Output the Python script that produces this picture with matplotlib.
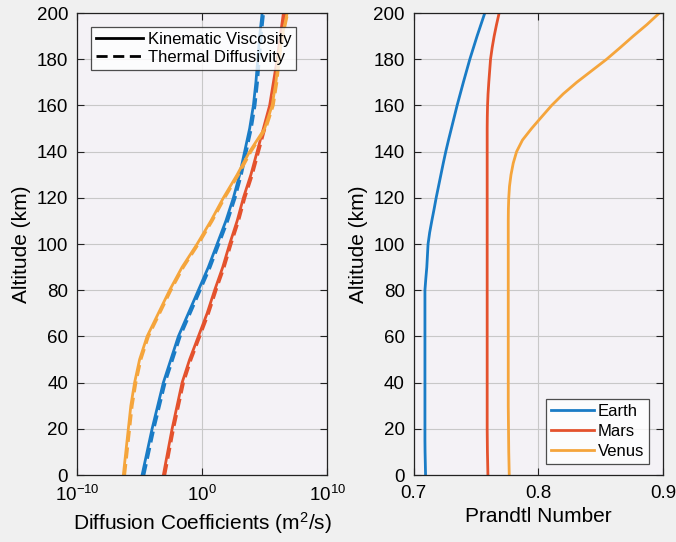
import numpy as np
import matplotlib
matplotlib.use("Agg")
import matplotlib.pyplot as plt
from matplotlib.ticker import FixedLocator

plt.rcParams['font.family'] = ['Liberation Sans', 'DejaVu Sans']
plt.rcParams['mathtext.default'] = 'regular'

# altitude grid for the Prandtl numbers (km), every 5 km
ALT_PR = [0, 5, 10, 15, 20, 25, 30, 35, 40, 45, 50, 55, 60, 65, 70, 75, 80, 85, 90, 95, 100,
          105, 110, 115, 120, 125, 130, 135, 140, 145, 150, 155, 160, 165, 170, 175, 180,
          185, 190, 195, 200]
# altitude grid for the diffusion coefficients (km), every 10 km
ALT = [0, 10, 20, 30, 40, 50, 60, 70, 80, 90, 100,
       110, 120, 130, 140, 150, 160, 170, 180, 190, 200]

# log10 of kinematic viscosity (m^2/s)
LOG_NU_EARTH = [-4.8, -4.4, -4.0, -3.55, -3.1, -2.5, -1.9, -1.1, -0.3, 0.5, 1.2,
                1.9, 2.5, 3.0, 3.4, 3.8, 4.1, 4.3, 4.45, 4.6, 4.8]
LOG_NU_MARS = [-3.1, -2.75, -2.4, -2.0, -1.6, -1.0, -0.3, 0.4, 1.0, 1.65, 2.2,
               2.8, 3.3, 3.9, 4.4, 4.9, 5.4, 5.7, 6.0, 6.25, 6.5]
LOG_NU_VENUS = [-6.3, -6.1, -5.9, -5.7, -5.4, -5.0, -4.4, -3.5, -2.6, -1.6, -0.4,
                0.7, 1.7, 2.8, 3.8, 5.0, 5.6, 5.9, 6.1, 6.4, 6.8]

# Prandtl number (on ALT_PR)
PR_EARTH = [0.7095, 0.7093, 0.7091, 0.709, 0.709, 0.709, 0.709, 0.709, 0.709, 0.709,
            0.709, 0.709, 0.709, 0.709, 0.709, 0.709, 0.709, 0.7097, 0.7105, 0.711,
            0.7115, 0.7128, 0.7145, 0.7163, 0.718, 0.7199, 0.7218, 0.7237, 0.7257, 0.7279,
            0.7302, 0.7325, 0.7348, 0.7373, 0.7398, 0.7424, 0.745, 0.7479, 0.7508, 0.7539,
            0.757]
PR_MARS = [0.7595, 0.7593, 0.7591, 0.759, 0.7589, 0.7589, 0.7589, 0.7589, 0.7589, 0.7589,
           0.7589, 0.7589, 0.7589, 0.7589, 0.7589, 0.7589, 0.7589, 0.7589, 0.7589, 0.7589,
           0.7589, 0.7589, 0.7589, 0.7589, 0.7589, 0.7589, 0.7589, 0.7589, 0.7589, 0.7589,
           0.7589, 0.759, 0.7592, 0.7596, 0.7602, 0.7609, 0.7616, 0.7629, 0.7645, 0.7664,
           0.7685]
PR_VENUS = [0.7766, 0.7764, 0.7762, 0.7761, 0.776, 0.7759, 0.7758, 0.7758, 0.7758, 0.7758,
            0.7758, 0.7758, 0.7758, 0.7758, 0.7758, 0.7758, 0.7758, 0.7758, 0.7758, 0.7758,
            0.7758, 0.7758, 0.7758, 0.7759, 0.7762, 0.7768, 0.778, 0.7798, 0.7825, 0.7872,
            0.7945, 0.8025, 0.8106, 0.8199, 0.8307, 0.8427, 0.8547, 0.8655, 0.876, 0.887,
            0.897]

PLANETS = ['Earth', 'Mars', 'Venus']
COLORS = ['#1a7cc6', '#e4522d', '#f5a53c']

fig = plt.figure(figsize=(6.76, 5.42), dpi=100, facecolor='#f0f0f0')
ax1 = fig.add_axes([0.114, 0.1236, 0.370, 0.8524])
ax2 = fig.add_axes([0.612, 0.1236, 0.369, 0.8524])

alt = np.array(ALT)
nus = [LOG_NU_EARTH, LOG_NU_MARS, LOG_NU_VENUS]
prs = [PR_EARTH, PR_MARS, PR_VENUS]

# thermal diffusivity = viscosity / Prandtl number
for lognu, pr, c in zip(nus, prs, COLORS):
    nu = 10.0 ** np.array(lognu)
    ax1.plot(nu, alt, color=c, lw=2)
    ax1.plot(nu / np.array(pr)[::2], alt, color=c, lw=2, ls=(0, (4, 2)))

for pr, c, name in zip(prs, COLORS, PLANETS):
    ax2.plot(pr, ALT_PR, color=c, lw=2, label=name)

# legend entries for line style
h1, = ax1.plot([], [], color='black', lw=2, label='Kinematic Viscosity')
h2, = ax1.plot([], [], color='black', lw=2, ls=(0, (4, 2)), label='Thermal Diffusivity')

ax1.set_xscale('log')
ax1.set_xlim(1e-10, 1e10)
ax1.xaxis.set_major_locator(FixedLocator([1e-10, 1e0, 1e10]))
ax1.xaxis.set_minor_locator(FixedLocator([]))
ax1.set_xlabel('Diffusion Coefficients (m$^2$/s)', fontsize=15, labelpad=4)

ax2.set_xlim(0.7, 0.9)
ax2.set_xticks([0.7, 0.8, 0.9])
ax2.set_xticklabels(['0.7', '0.8', '0.9'])
ax2.set_xlabel('Prandtl Number', fontsize=15, labelpad=4)

for ax in (ax1, ax2):
    ax.set_facecolor('#f4f2f6')
    ax.set_ylim(0, 200)
    ax.set_yticks(range(0, 201, 20))
    ax.set_ylabel('Altitude (km)', fontsize=15, labelpad=4)
    ax.grid(True, color='#c8c8c8', lw=0.8)
    ax.set_axisbelow(True)
    ax.tick_params(direction='in', length=5, labelsize=13.5, top=True, right=True,
                   color='#222222')
    ax.tick_params(axis='y', pad=6.5)
    ax.tick_params(axis='x', pad=7)
    for s in ax.spines.values():
        s.set_color('#222222')
        s.set_linewidth(0.9)

leg1 = ax1.legend(handles=[h1, h2], loc='upper left', bbox_to_anchor=(0.056, 0.97),
                  borderaxespad=0, fontsize=12, frameon=True, fancybox=False,
                  edgecolor='#222222', handlelength=2.8, borderpad=0.3,
                  labelspacing=0.2, handletextpad=0.3)
leg1.get_frame().set_facecolor('white')
leg1.get_frame().set_linewidth(0.9)

leg2 = ax2.legend(loc='lower right', bbox_to_anchor=(0.944, 0.024), borderaxespad=0,
                  fontsize=12, frameon=True, fancybox=False, edgecolor='#222222',
                  handlelength=2.6, borderpad=0.3, labelspacing=0.3, handletextpad=0.2)
leg2.get_frame().set_facecolor('white')
leg2.get_frame().set_linewidth(0.9)

fig.savefig('out.png', dpi=100, facecolor=fig.get_facecolor())
